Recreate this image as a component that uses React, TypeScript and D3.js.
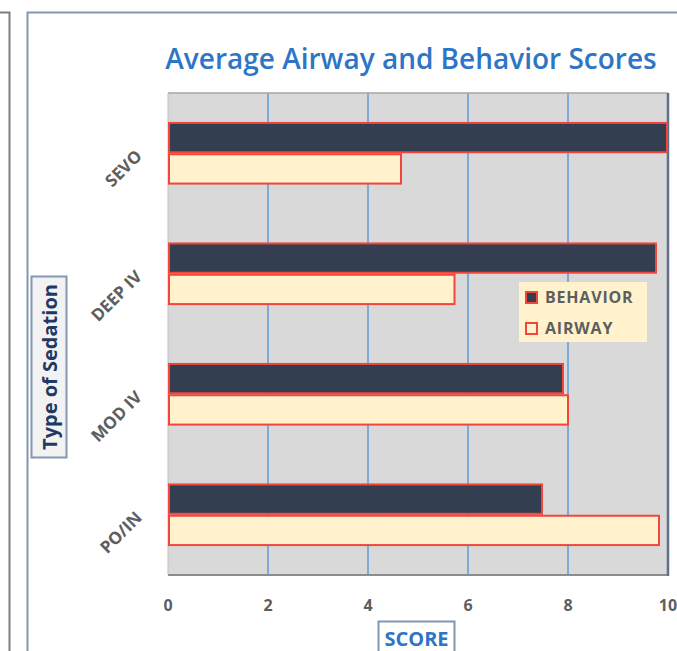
import React from "react";
import * as d3 from "d3";

const categories = ["SEVO", "DEEP IV", "MOD IV", "PO/IN"];
const seriesNames = ["BEHAVIOR", "AIRWAY"];
const behavior = [10, 9.78, 7.92, 7.5];
const airway = [4.68, 5.75, 8.02, 9.84];
const xTicks = [0, 2, 4, 6, 8, 10];

const W = 677;
const H = 651;
const plot = { left: 168, right: 668, top: 93, bottom: 575 };

export default function App() {
  const x = d3.scaleLinear().domain([0, 10]).range([plot.left, plot.right]);
  const y = d3
    .scaleBand<string>()
    .domain(categories)
    .range([plot.top, plot.bottom])
    .paddingInner(0.48)
    .paddingOuter(0.24);
  const ys = d3.scaleBand<string>().domain(seriesNames).range([0, y.bandwidth()]);
  const values: Record<string, number[]> = { BEHAVIOR: behavior, AIRWAY: airway };
  const fills: Record<string, string> = { BEHAVIOR: "#333f50", AIRWAY: "#fff2cc" };
  const tickColor = "#5e5e5e";
  const font = "'Open Sans', 'DejaVu Sans', sans-serif";

  return (
    <svg
      width={W}
      height={H}
      style={{ position: "absolute", left: 0, top: 0, background: "#fff" }}
      fontFamily={font}
    >
      {/* neighbouring frame */}
      <path d={`M0,12.5 H9.5 V${H}`} fill="none" stroke="#7f7f7f" strokeWidth={2} />
      {/* chart frame */}
      <path d={`M27.5,${H} V12.5 H${W}`} fill="none" stroke="#8497b0" strokeWidth={2} />

      <text
        x={411}
        y={69}
        textAnchor="middle"
        fill="#2e75c6"
        fontSize={28}
        fontWeight={600}
      >
        Average Airway and Behavior Scores
      </text>

      {/* plot area */}
      <rect
        x={plot.left}
        y={plot.top}
        width={plot.right - plot.left}
        height={plot.bottom - plot.top}
        fill="#d9d9d9"
      />
      {xTicks.slice(1, -1).map((t) => (
        <line
          key={t}
          x1={x(t)}
          x2={x(t)}
          y1={plot.top}
          y2={plot.bottom}
          stroke="#5b9bd5"
          strokeWidth={1.5}
        />
      ))}
      <line x1={plot.left} x2={plot.right} y1={plot.top} y2={plot.top} stroke="#a6a6a6" strokeWidth={1.5} />
      <line x1={plot.left} x2={plot.right} y1={plot.bottom} y2={plot.bottom} stroke="#8c8c8c" strokeWidth={2} />
      <line x1={plot.left} x2={plot.left} y1={plot.top} y2={plot.bottom} stroke="#bfbfbf" strokeWidth={1} />
      <line x1={plot.right} x2={plot.right} y1={plot.top} y2={plot.bottom + 1} stroke="#5f7188" strokeWidth={2.5} />

      {/* bars */}
      {categories.map((c, i) => (
        <g key={c} transform={`translate(0,${y(c)})`}>
          {seriesNames.map((s) => (
            <rect
              key={s}
              x={x(0) + 1}
              y={(ys(s) as number) + 1}
              width={x(values[s][i]) - x(0) - 2}
              height={ys.bandwidth() - 2}
              fill={fills[s]}
              stroke="#f2463c"
              strokeWidth={2}
            />
          ))}
        </g>
      ))}

      {/* category labels */}
      {categories.map((c) => {
        const cy = (y(c) as number) + y.bandwidth() / 2 + 4;
        return (
          <text
            key={c}
            transform={`translate(143,${cy}) rotate(-45)`}
            textAnchor="end"
            fill={tickColor}
            fontSize={17}
            fontWeight={700}
          >
            {c}
          </text>
        );
      })}

      {/* x ticks */}
      {xTicks.map((t) => (
        <text
          key={t}
          x={x(t)}
          y={611}
          textAnchor="middle"
          fill={tickColor}
          fontSize={16}
          fontWeight={700}
        >
          {t}
        </text>
      ))}

      {/* axis titles */}
      <rect x={378.5} y={621.5} width={76} height={34} fill="#fff" stroke="#8497b0" strokeWidth={2} />
      <text x={416.5} y={646} textAnchor="middle" fill="#2e75c6" fontSize={20} fontWeight={700}>
        SCORE
      </text>

      <rect x={31.5} y={276.5} width={35} height={181} fill="#f2f2f2" stroke="#8497b0" strokeWidth={2} />
      <text
        transform={`translate(57,367) rotate(-90)`}
        textAnchor="middle"
        fill="#1f3864"
        fontSize={20}
        fontWeight={700}
      >
        Type of Sedation
      </text>

      {/* legend */}
      <rect x={519} y={282} width={128} height={60} fill="#fff2cc" />
      {seriesNames.map((s, i) => (
        <g key={s} transform={`translate(526,${297 + i * 31})`}>
          <rect x={0} y={-5} width={11} height={11} fill={fills[s]} stroke="#f2463c" strokeWidth={2} />
          <text x={19} y={6} fill={tickColor} fontSize={16} fontWeight={700} letterSpacing={0.8}>
            {s}
          </text>
        </g>
      ))}
    </svg>
  );
}
